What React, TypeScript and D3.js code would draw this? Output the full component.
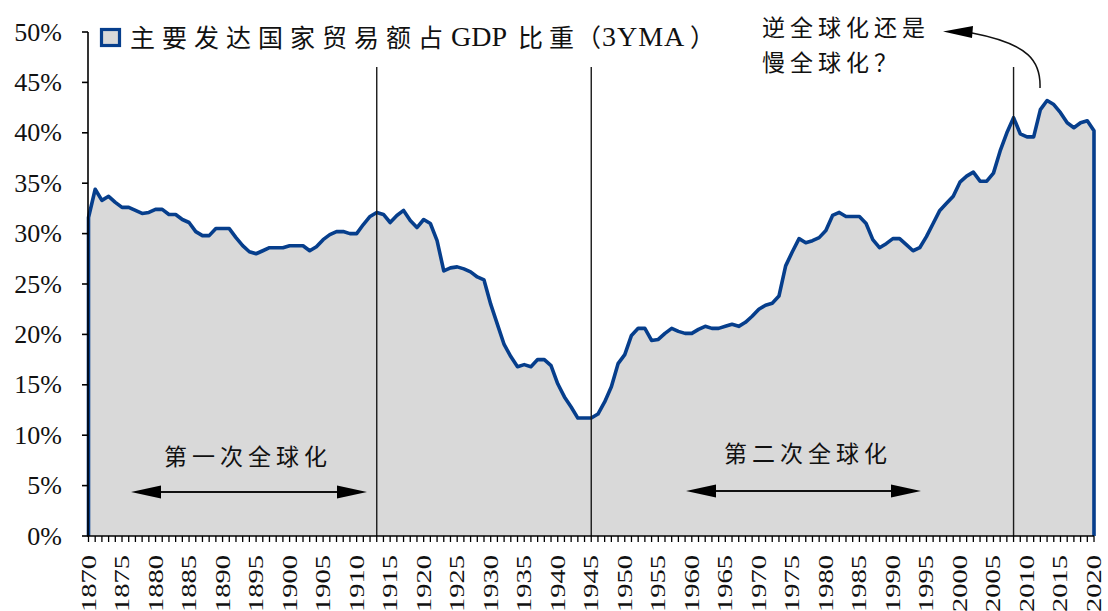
import React from "react";
import * as d3 from "d3";

const W = 1108;
const H = 611;

const startYear = 1870;
const shareValues: number[] = [
  31.6, 34.4, 33.3, 33.7, 33.1, 32.6, 32.6, 32.3, 32.0, 32.1,
  32.4, 32.4, 31.9, 31.9, 31.4, 31.1, 30.2, 29.8, 29.8, 30.5,
  30.5, 30.5, 29.6, 28.8, 28.2, 28.0, 28.3, 28.6, 28.6, 28.6,
  28.8, 28.8, 28.8, 28.3, 28.7, 29.4, 29.9, 30.2, 30.2, 30.0,
  30.0, 30.9, 31.7, 32.1, 31.9, 31.1, 31.8, 32.3, 31.3, 30.6,
  31.4, 31.0, 29.3, 26.3, 26.6, 26.7, 26.5, 26.2, 25.7, 25.4,
  23.0, 21.0, 19.0, 17.8, 16.8, 17.0, 16.8, 17.5, 17.5, 16.9,
  15.1, 13.8, 12.8, 11.7, 11.7, 11.7, 12.1, 13.3, 14.8, 17.1,
  18.0, 19.9, 20.6, 20.6, 19.4, 19.5, 20.1, 20.6, 20.3, 20.1,
  20.1, 20.5, 20.8, 20.6, 20.6, 20.8, 21.0, 20.8, 21.2, 21.8,
  22.5, 22.9, 23.1, 23.8, 26.8, 28.2, 29.5, 29.1, 29.3, 29.6,
  30.3, 31.8, 32.1, 31.7, 31.7, 31.7, 31.0, 29.4, 28.6, 29.0,
  29.5, 29.5, 28.9, 28.3, 28.6, 29.7, 31.0, 32.3, 33.0, 33.7,
  35.1, 35.7, 36.1, 35.2, 35.2, 36.0, 38.2, 40.0, 41.5, 39.9,
  39.6, 39.6, 42.3, 43.2, 42.8, 42.0, 41.0, 40.5, 41.0, 41.2,
  40.2,
];
const years: number[] = shareValues.map((_, i) => startYear + i);
const yTicks: number[] = [0, 5, 10, 15, 20, 25, 30, 35, 40, 45, 50];
const xLabelYears: number[] = years.filter((yr) => yr % 5 === 0);
const markerYears: number[] = [1913, 1945, 2008];
const legendCjk1 = "主要发达国家贸易额占";
const legendLatin1 = "GDP";
const legendCjk2a = "比";
const legendCjk2b = "重";
const legendLatin2 = "3YMA";
const phase1Label = "第一次全球化";
const phase2Label = "第二次全球化";
const questionLines: string[] = ["逆全球化还是", "慢全球化？"];

const BLUE = "#063e8c";
const FILL = "#d9d9d9";
const SERIF = "'Liberation Serif', 'Times New Roman', 'Noto Sans CJK SC', serif";
const CJK = "'Noto Sans CJK SC', 'Liberation Serif', serif";

export default function App() {
  const x = d3.scaleLinear().domain([1870, 2020]).range([88.5, 1094]);
  const y = d3.scaleLinear().domain([0, 50]).range([536, 32]);

  const data = years.map((yr, i) => ({ yr, v: shareValues[i] }));
  const area = d3
    .area<{ yr: number; v: number }>()
    .x((d) => x(d.yr))
    .y0(y(0))
    .y1((d) => y(d.v));
  const outline = d3
    .line<{ yr: number; v: number }>()
    .x((d) => x(d.yr))
    .y((d) => y(d.v));
  const outlineData = [
    { yr: years[0], v: 0 },
    ...data,
    { yr: years[years.length - 1], v: 0 },
  ];

  const arrowHead = (tipX: number, yy: number, dir: number) =>
    `M${tipX},${yy} L${tipX + dir * 30},${yy - 6.5} L${tipX + dir * 30},${yy + 6.5} Z`;

  const dblArrow = (x1: number, x2: number, yy: number) => (
    <g>
      <line x1={x1 + 20} x2={x2 - 20} y1={yy} y2={yy} stroke="#111" strokeWidth={2} />
      <path d={arrowHead(x1, yy, 1)} fill="#000" />
      <path d={arrowHead(x2, yy, -1)} fill="#000" />
    </g>
  );

  const serif = { fontFamily: SERIF };
  const cjk = { fontFamily: CJK };

  return (
    <svg
      width={W}
      height={H}
      viewBox={`0 0 ${W} ${H}`}
      style={{ position: "absolute", left: 0, top: 0, background: "#fff" }}
    >
      {/* area */}
      <path d={area(data) || ""} fill={FILL} />
      <path
        d={outline(outlineData) || ""}
        fill="none"
        stroke={BLUE}
        strokeWidth={3.6}
        strokeLinejoin="round"
      />

      {/* vertical marker lines */}
      {markerYears.map((yr) => (
        <line
          key={yr}
          x1={x(yr)}
          x2={x(yr)}
          y1={67}
          y2={y(0)}
          stroke="#1a1a1a"
          strokeWidth={1.4}
        />
      ))}

      {/* y axis */}
      <line x1={88} x2={88} y1={y(50)} y2={y(0)} stroke="#000" strokeWidth={1.6} />
      {yTicks.map((t) => (
        <g key={t}>
          <line x1={82} x2={88} y1={y(t)} y2={y(t)} stroke="#000" strokeWidth={1.6} />
          <text
            x={62}
            y={y(t)}
            textAnchor="end"
            dominantBaseline="central"
            fontSize={26}
            fill="#111"
            style={serif}
          >
            {t}%
          </text>
        </g>
      ))}

      {/* x axis */}
      <line x1={87} x2={x(2020)} y1={y(0)} y2={y(0)} stroke="#000" strokeWidth={1.6} />
      {years.map((yr) => (
        <line
          key={yr}
          x1={x(yr)}
          x2={x(yr)}
          y1={y(0)}
          y2={y(0) + 6}
          stroke="#000"
          strokeWidth={1.3}
        />
      ))}
      {xLabelYears.map((yr) => (
        <text
          key={yr}
          transform={`translate(${x(yr)},555) rotate(-90)`}
          textAnchor="end"
          dominantBaseline="central"
          fontSize={20}
          textLength={57}
          lengthAdjust="spacingAndGlyphs"
          fill="#111"
          style={serif}
        >
          {yr}
        </text>
      ))}

      {/* legend */}
      <rect x={101.5} y={29.5} width={18} height={16} fill={FILL} stroke={BLUE} strokeWidth={3.2} />
      <text y={36} dominantBaseline="central" fontSize={25} fill="#111">
        <tspan x={130} style={{ ...cjk, letterSpacing: "7px" }}>{legendCjk1}</tspan>
        <tspan x={451} style={{ ...serif, fontSize: "28px" }}>{legendLatin1}</tspan>
        <tspan x={518} style={cjk}>{legendCjk2a}</tspan>
        <tspan x={549} style={cjk}>{legendCjk2b}</tspan>
        <tspan x={576} style={cjk}>（</tspan>
        <tspan x={602} style={{ ...serif, fontSize: "28px", letterSpacing: "1px" }}>{legendLatin2}</tspan>
        <tspan x={690} style={cjk}>）</tspan>
      </text>

      {/* phase annotations */}
      <text
        x={248}
        y={455}
        textAnchor="middle"
        dominantBaseline="central"
        fontSize={23}
        fill="#111"
        style={{ ...cjk, letterSpacing: "5px" }}
      >
        {phase1Label}
      </text>
      {dblArrow(131, 367, 492)}
      <text
        x={808}
        y={452}
        textAnchor="middle"
        dominantBaseline="central"
        fontSize={23}
        fill="#111"
        style={{ ...cjk, letterSpacing: "5px" }}
      >
        {phase2Label}
      </text>
      {dblArrow(686, 921, 491)}

      {/* question annotation */}
      {questionLines.map((s, i) => (
        <text
          key={i}
          x={762}
          y={26 + i * 35}
          dominantBaseline="central"
          fontSize={23}
          fill="#111"
          style={{ ...cjk, letterSpacing: "5px" }}
        >
          {s}
        </text>
      ))}
      <path
        d="M1040,88 C1041,62 1030,44 972,33"
        fill="none"
        stroke="#111"
        strokeWidth={1.5}
      />
      <path d="M943,31.5 L973,26 L972,38 Z" fill="#000" />
    </svg>
  );
}
